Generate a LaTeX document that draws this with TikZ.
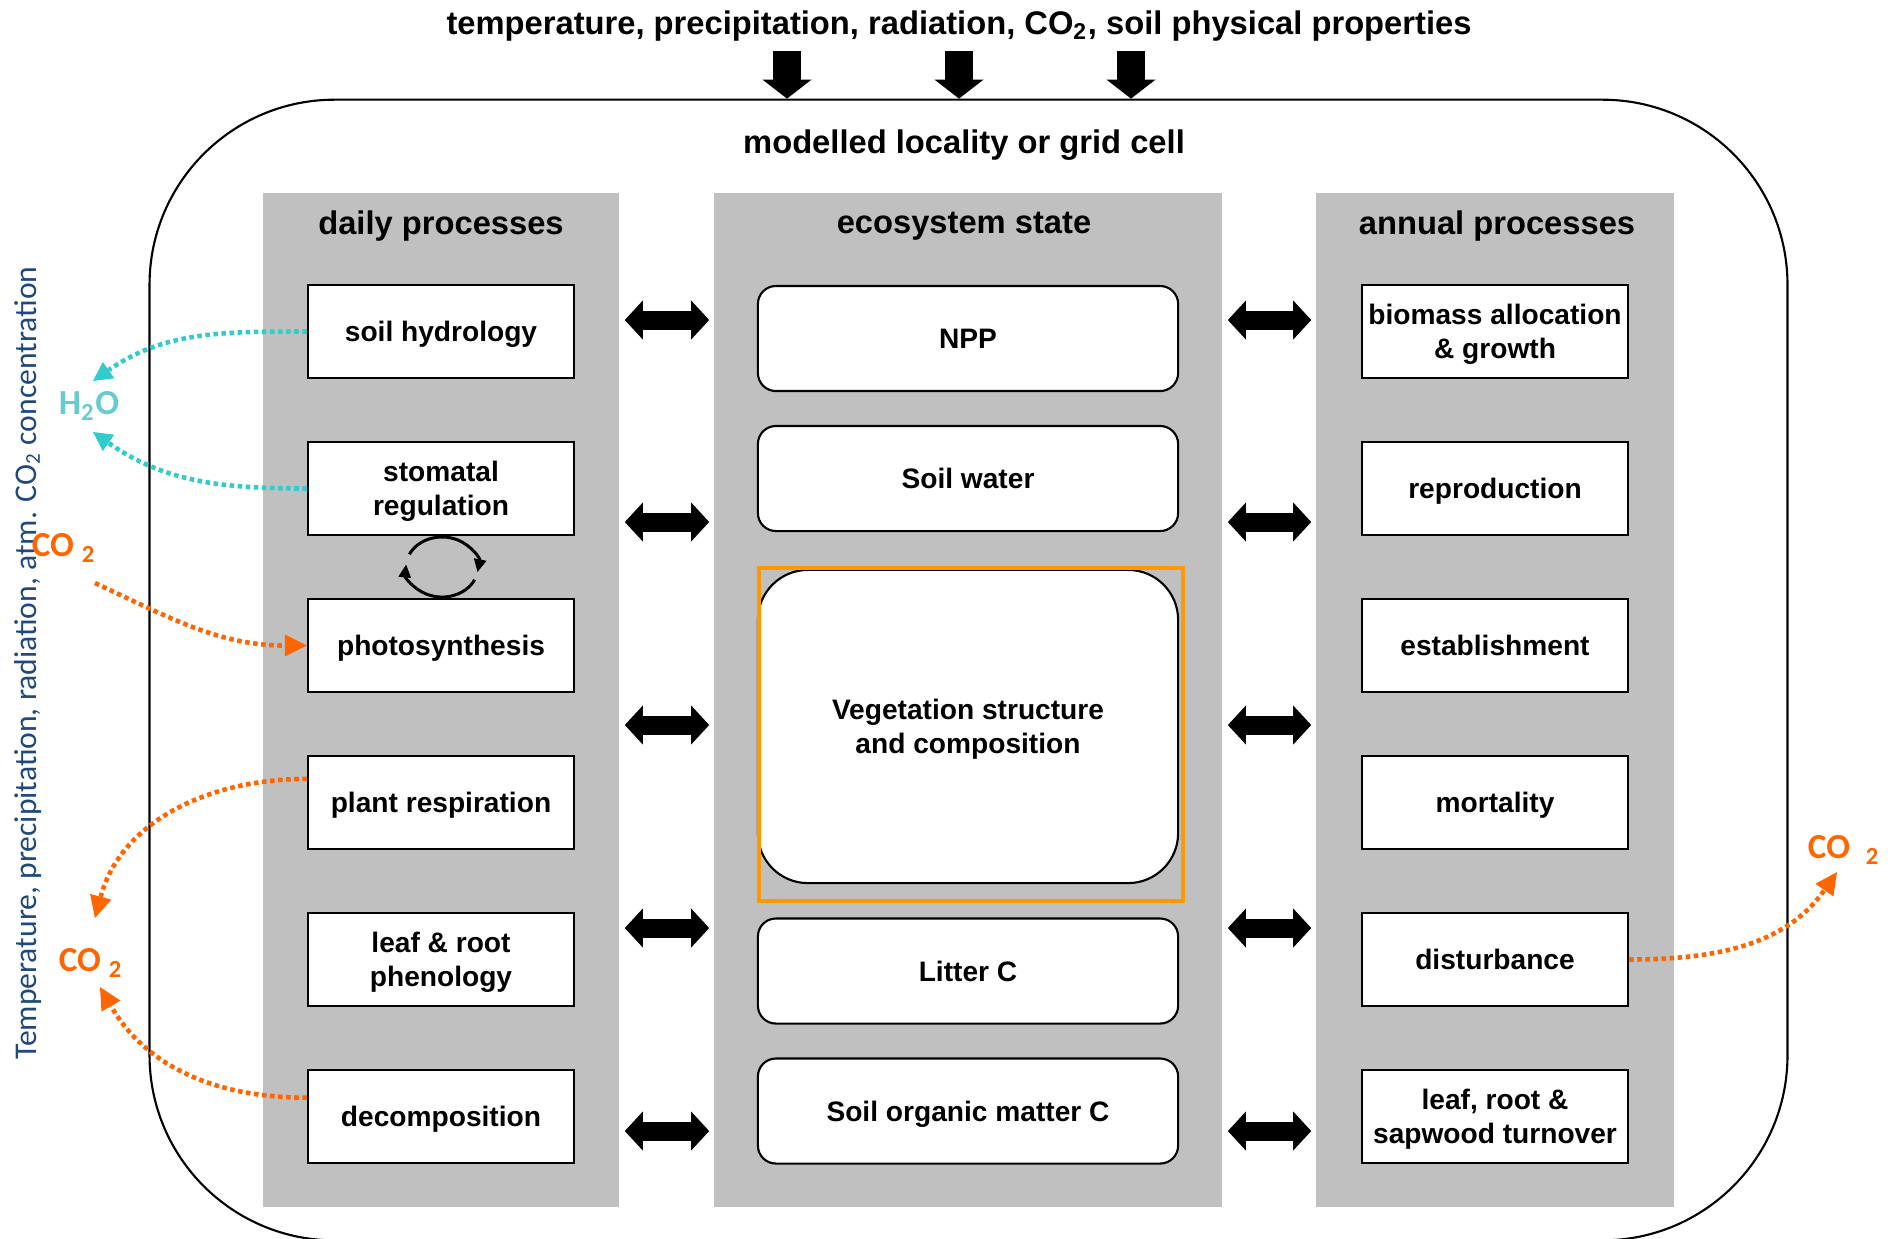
\documentclass[tikz,border=0pt]{standalone}
\usepackage{fontspec}
\setmainfont{Liberation Sans}
\newfontfamily\calibri{Carlito}
\usetikzlibrary{arrows.meta}
\definecolor{colgrey}{RGB}{192,192,192}
\definecolor{flowteal}{RGB}{51,204,204}
\definecolor{gasteal}{RGB}{102,204,210}
\definecolor{flowor}{RGB}{255,102,0}
\definecolor{vegor}{RGB}{255,153,0}
\definecolor{drvblue}{RGB}{31,73,125}

\begin{document}
\begin{tikzpicture}[x=0.01cm,y=-0.01cm,
  head/.style={text depth=0pt, font=\fontsize{9.3}{11}\selectfont\bfseries},
  column/.style={fill=colgrey, inner sep=0pt, minimum height=10.14cm},
  procbox/.style={draw, fill=white, line width=0.6pt, minimum width=2.66cm, minimum height=0.93cm,
    align=center, inner sep=1pt, text depth=0pt, font=\fontsize{8}{9.6}\selectfont\bfseries},
  statebox/.style={procbox, rounded corners=0.18cm, minimum width=4.2cm, minimum height=1.05cm},
  gas/.style={font=\calibri\bfseries\fontsize{10}{12}\selectfont},
  dblarrow/.style={line width=0.19cm, shorten <=0.05cm, shorten >=0.04cm,
    {Triangle[length=0.18cm,width=0.39cm,line width=0pt]}-{Triangle[length=0.18cm,width=0.39cm,line width=0pt]}},
  inarrow/.style={line width=0.28cm, -{Triangle[length=0.19cm,width=0.49cm,line width=0pt]}},
  cycarrow/.style={line width=0.85pt, -{Triangle[length=0.13cm,width=0.12cm]}},
  tealflow/.style={flowteal, line width=1.3pt, dash pattern=on 1.3pt off 1pt,
    -{Triangle[length=0.19cm,width=0.2cm,line width=0pt]}},
  orangeflow/.style={flowor, line width=1.3pt, dash pattern=on 1.3pt off 1pt,
    -{Triangle[length=0.22cm,width=0.22cm,line width=0pt]}}]
\useasboundingbox (0,0) rectangle (1892,1238);

\node[head] (inputs) at (959,22.5) {temperature, precipitation, radiation, CO\textsubscript{2}, soil physical properties};
\node[draw, line width=0.6pt, rounded corners=1.85cm, minimum width=16.37cm, minimum height=11.4cm] (cell) at (968.5,670) {};
\draw[inarrow] (787,51) -- (787,51 |- cell.north);
\draw[inarrow] (959,51) -- (959,51 |- cell.north);
\draw[inarrow] (1131,51) -- (1131,51 |- cell.north);
\node[head] (celltitle) at (964,142) {modelled locality or grid cell};

\node[column, minimum width=3.56cm] (daily) at (441,700) {};
\node[column, minimum width=5.08cm] (state) at (968,700) {};
\node[column, minimum width=3.58cm] (annual) at (1495,700) {};
\node[head] (dailyhead) at (441,223) {daily processes};
\node[head] (statehead) at (964,223) {ecosystem state};
\node[head] (annualhead) at (1497,223) {annual processes};

\node[procbox] (hyd) at (441,331.5) {soil hydrology};
\node[procbox] (stom) at (441,488.5) {stomatal\\regulation};
\node[procbox] (phot) at (441,645.5) {photosynthesis};
\node[procbox] (resp) at (441,802.5) {plant respiration};
\node[procbox] (phen) at (441,959.5) {leaf \& root\\phenology};
\node[procbox] (deco) at (441,1116.5) {decomposition};

\node[procbox] (alloc) at (1495,331.5) {biomass allocation\\\& growth};
\node[procbox] (repro) at (1495,488.5) {reproduction};
\node[procbox] (estab) at (1495,645.5) {establishment};
\node[procbox] (mort) at (1495,802.5) {mortality};
\node[procbox] (dist) at (1495,959.5) {disturbance};
\node[procbox] (turn) at (1495,1116.5) {leaf, root \&\\sapwood turnover};

\node[statebox] (npp) at (968,338.5) {NPP};
\node[statebox] (swat) at (968,478.5) {Soil water};
\node[statebox, rounded corners=0.5cm, minimum height=3.13cm] (veg) at (968,726.5) {Vegetation structure\\and composition};
\node[statebox] (litt) at (968,971) {Litter C};
\node[statebox] (som) at (968,1111) {Soil organic matter C};
\draw[vegor, line width=1.15pt] (759,568) rectangle (1183,901);

\draw[dblarrow] (daily.east |- 0,320) -- (state.west |- 0,320);
\draw[dblarrow] (daily.east |- 0,522) -- (state.west |- 0,522);
\draw[dblarrow] (daily.east |- 0,725) -- (state.west |- 0,725);
\draw[dblarrow] (daily.east |- 0,928) -- (state.west |- 0,928);
\draw[dblarrow] (daily.east |- 0,1131) -- (state.west |- 0,1131);
\draw[dblarrow] (state.east |- 0,320) -- (annual.west |- 0,320);
\draw[dblarrow] (state.east |- 0,522) -- (annual.west |- 0,522);
\draw[dblarrow] (state.east |- 0,725) -- (annual.west |- 0,725);
\draw[dblarrow] (state.east |- 0,928) -- (annual.west |- 0,928);
\draw[dblarrow] (state.east |- 0,1131) -- (annual.west |- 0,1131);

\coordinate (cyc) at (442,567);
\draw[cycarrow] ([shift={(155:0.36cm and 0.30cm)}]cyc) arc[start angle=155, end angle=-10, x radius=0.36cm, y radius=0.30cm];
\draw[cycarrow] ([shift={(-25:0.36cm and 0.30cm)}]cyc) arc[start angle=-25, end angle=-185, x radius=0.36cm, y radius=0.30cm];

\node[rotate=90, text=drvblue, font=\calibri\fontsize{9}{11}\selectfont] (drivers) at (28,663) {Temperature, precipitation, radiation, atm. CO\textsubscript{2} concentration};

\node[gas, text=gasteal] (h2o) at (89,406) {H\textsubscript{2}O};
\coordinate (h2otop) at (93,381);
\coordinate (h2obot) at (93,432);
\draw[tealflow] (hyd.west) to[out=180,in=35] (h2otop);
\draw[tealflow] (stom.west) to[out=180,in=-35] (h2obot);

\node[gas, text=flowor] (co2in) at (64,548) {CO \textsubscript{2}};
\coordinate (co2start) at (95,583);
\draw[orangeflow] (co2start) to[out=-25,in=180] (phot.west);

\node[gas, text=flowor] (co2out) at (91,963) {CO \textsubscript{2}};
\coordinate (co2top) at (95,918);
\coordinate (co2bot) at (100,987);
\draw[orangeflow] (resp.170) to[out=180,in=75] (co2top);
\draw[orangeflow] (deco.172) to[out=180,in=-60] (co2bot);

\node[gas, text=flowor] (co2dist) at (1844,850) {CO\hspace{0.45em}\textsubscript{2}};
\coordinate (co2right) at (1837,872);
\draw[orangeflow] (dist.east) to[out=0,in=-125] (co2right);
\end{tikzpicture}
\end{document}
